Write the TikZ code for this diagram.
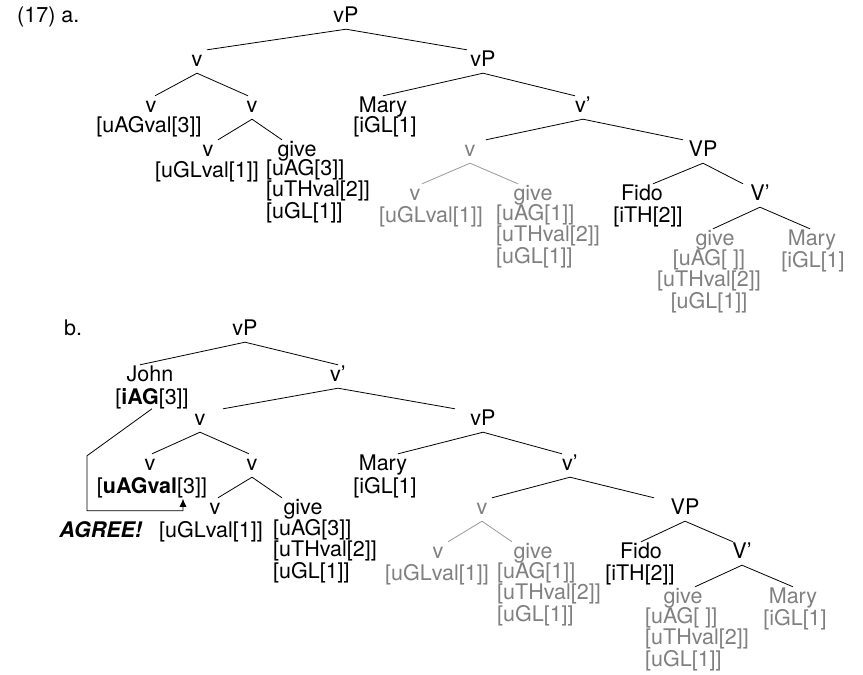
\documentclass[tikz,border=0pt]{standalone}
\usepackage{fontspec}
\setmainfont{TeX Gyre Heros}
\usetikzlibrary{arrows.meta}
\definecolor{ghost}{gray}{0.5}
\definecolor{ghostline}{gray}{0.6}
\tikzset{
    cat/.style={inner sep=0pt, anchor=base, text height=16pt, text depth=7pt},
    feat/.style={inner sep=0pt, anchor=base, align=center},
    featl/.style={inner sep=0pt, anchor=base west, align=left},
    dim/.style={text=ghost},
    edge/.style={line width=0.8pt},
    dimedge/.style={line width=0.8pt, draw=ghostline},
    agree/.style={line width=0.8pt, -{Latex[length=8pt, width=7pt]}}
}
\begin{document}
\begin{tikzpicture}[x=1pt, y=-1pt, font=\fontsize{21.5}{20.5}\selectfont]
    \useasboundingbox (0,0) rectangle (863,675);

    % (17a) -- multi-line blocks sit on their last line
    \node [inner sep=0pt, anchor=base west] (lab_a) at (17,22) {(17) a.};
    \node [cat] (a_vP) at (346,22) {vP};
    \node [cat] (a_v) at (197,66) {v};
    \node [cat] (a_vP2) at (483,66) {vP};
    \node [cat] (a_v1) at (151,112) {v};
    \node [feat] (a_v1_f) at (149,132) {[uAGval[3]]};
    \node [cat] (a_v2) at (252,112) {v};
    \node [cat] (a_mary) at (383,112) {Mary};
    \node [feat] (a_mary_f) at (385,132) {[iGL[1]};
    \node [cat] (a_vbar) at (583,112) {v’};
    \node [cat] (a_v3) at (208,156) {v};
    \node [feat] (a_v3_f) at (207,177) {[uGLval[1]]};
    \node [cat] (a_give) at (297,156) {give};
    \node [featl] (a_give_f) at (266,218) {{[uAG[3]]}\\{[uTHval[2]]}\\{[uGL[1]]}};
    \node [cat, dim] (a_vg) at (470,156) {v};
    \node [cat] (a_VP) at (703,156) {VP};
    \node [cat, dim] (a_vg1) at (415,200) {v};
    \node [feat, dim] (a_vg1_f) at (431,222) {[uGLval[1]]};
    \node [cat, dim] (a_vg2) at (533,200) {give};
    \node [featl, dim] (a_vg2_f) at (496,263) {{[uAG[1]]}\\{[uTHval[2]]}\\{[uGL[1]]}};
    \node [cat] (a_fido) at (642,200) {Fido};
    \node [feat] (a_fido_f) at (648,222) {[iTH[2]]};
    \node [cat] (a_Vbar) at (760,200) {V’};
    \node [cat, dim] (a_give2) at (715,245) {give};
    \node [feat, dim] (a_give2_f) at (709,308) {{[uAG[\ ]]}\\{[uTHval[2]]}\\{[uGL[1]]}};
    \node [cat, dim] (a_mary2) at (812,245) {Mary};
    \node [feat, dim] (a_mary2_f) at (813,267) {[iGL[1]};

    \draw [edge] (a_vP.south) -- ([xshift=10pt]a_v.north);
    \draw [edge] (a_vP.south) -- ([xshift=-16pt]a_vP2.north);
    \draw [edge] (a_v.south) -- ([xshift=4pt]a_v1.north);
    \draw [edge] (a_v.south) -- ([xshift=-4pt]a_v2.north);
    \draw [edge] (a_vP2.south) -- (a_mary.north);
    \draw [edge] (a_vP2.south) -- ([xshift=-8pt]a_vbar.north);
    \draw [edge] (a_v2.south) -- ([xshift=10pt]a_v3.north);
    \draw [edge] (a_v2.south) -- ([xshift=-15pt]a_give.north);
    \draw [edge] (a_vbar.south) -- ([xshift=16pt]a_vg.north);
    \draw [edge] (a_vbar.south) -- ([xshift=-20pt]a_VP.north);
    \draw [dimedge] (a_vg.south) -- ([xshift=7pt]a_vg1.north);
    \draw [dimedge] (a_vg.south) -- ([xshift=-15pt]a_vg2.north);
    \draw [edge] (a_VP.south) -- ([xshift=11pt]a_fido.north);
    \draw [edge] (a_VP.south) -- ([xshift=-17pt]a_Vbar.north);
    \draw [edge] (a_Vbar.south) -- ([xshift=-2pt]a_give2.north);
    \draw [edge] (a_Vbar.south) -- ([xshift=-2pt]a_mary2.north);

    % (17b)
    \node [inner sep=0pt, anchor=base west] (lab_b) at (64,335) {b.};
    \node [cat] (b_vP) at (245,335) {vP};
    \node [cat] (b_john) at (150,381) {John};
    \node [feat] (b_john_f) at (152,404) {[\textbf{iAG}[3]]};
    \node [cat] (b_vbar) at (338,381) {v’};
    \node [cat] (b_v) at (200,425) {v};
    \node [cat] (b_vP2) at (483,425) {vP};
    \node [cat] (b_v1) at (150,470) {v};
    \node [feat] (b_v1_f) at (152,493) {[\textbf{uAGval}[3]]};
    \node [cat] (b_v2) at (252,470) {v};
    \node [cat] (b_mary) at (383,470) {Mary};
    \node [feat] (b_mary_f) at (385,493) {[iGL[1]};
    \node [cat] (b_vbar2) at (570,470) {v’};
    \node [cat] (b_v3) at (215,514) {v};
    \node [feat] (b_v3_f) at (211,537) {[uGLval[1]]};
    \node [cat] (b_give) at (303,514) {give};
    \node [featl] (b_give_f) at (273,578) {{[uAG[3]]}\\{[uTHval[2]]}\\{[uGL[1]]}};
    \node [feat] (b_agree) at (101,537) {\textbf{\textit{AGREE!}}};
    \node [cat, dim] (b_vg) at (482,514) {v};
    \node [cat] (b_VP) at (685,514) {VP};
    \node [cat, dim] (b_vg1) at (438,558) {v};
    \node [feat, dim] (b_vg1_f) at (437,580) {[uGLval[1]]};
    \node [cat, dim] (b_vg2) at (533,558) {give};
    \node [featl, dim] (b_vg2_f) at (497,621) {{[uAG[1]]}\\{[uTHval[2]]}\\{[uGL[1]]}};
    \node [cat] (b_fido) at (641,558) {Fido};
    \node [feat] (b_fido_f) at (640,580) {[iTH[2]]};
    \node [cat] (b_Vbar) at (742,558) {V’};
    \node [cat, dim] (b_give2) at (683,603) {give};
    \node [featl, dim] (b_give2_f) at (645,666) {{[uAG[\ ]]}\\{[uTHval[2]]}\\{[uGL[1]]}};
    \node [cat, dim] (b_mary2) at (793,603) {Mary};
    \node [feat, dim] (b_mary2_f) at (795,625) {[iGL[1]};

    \draw [edge] (b_vP.south) -- ([xshift=-10pt]b_john.north);
    \draw [edge] (b_vP.south) -- (b_vbar.north);
    \draw [edge] (b_vbar.south) -- ([xshift=23pt]b_v.north);
    \draw [edge] (b_vbar.south) -- ([xshift=-28pt]b_vP2.north);
    \draw [edge] (b_v.south) -- ([xshift=2pt]b_v1.north);
    \draw [edge] (b_v.south) -- ([xshift=-3pt]b_v2.north);
    \draw [edge] (b_vP2.south) -- ([xshift=15pt]b_mary.north);
    \draw [edge] (b_vP2.south) -- ([xshift=-8pt]b_vbar2.north);
    \draw [edge] (b_v2.south) -- ([xshift=3pt]b_v3.north);
    \draw [edge] (b_v2.south) -- ([xshift=-21pt]b_give.north);
    \draw [edge] (b_vbar2.south) -- ([xshift=10pt]b_vg.north);
    \draw [edge] (b_vbar2.south) -- ([xshift=-31pt]b_VP.north);
    \draw [dimedge] (b_vg.south) -- ([xshift=10pt]b_vg1.north);
    \draw [dimedge] (b_vg.south) -- ([xshift=-21pt]b_vg2.north);
    \draw [edge] (b_VP.south) -- (b_fido.north);
    \draw [edge] (b_VP.south) -- ([xshift=-9pt]b_Vbar.north);
    \draw [edge] (b_Vbar.south) -- ([xshift=12pt]b_give2.north);
    \draw [edge] (b_Vbar.south) -- (b_mary2.north);

    % AGREE arrow
    \draw [agree] (b_john_f.south) -- ++(-65,47) -- ++(0,55) -| ([xshift=31pt,yshift=-1pt]b_v1_f.south);
\end{tikzpicture}
\end{document}
